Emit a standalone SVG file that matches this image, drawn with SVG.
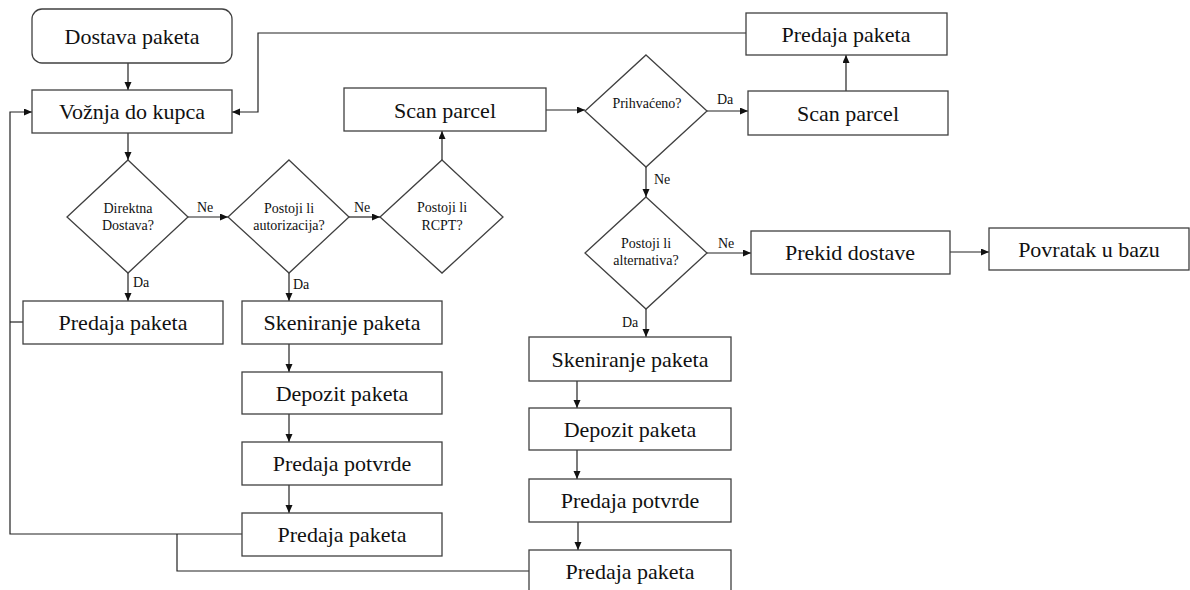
<svg xmlns="http://www.w3.org/2000/svg" width="1190" height="590" viewBox="0 0 1190 590">
<style>
.box{fill:#fff;stroke:#404040;stroke-width:1.3}
.t{font-size:22px;fill:#111;text-anchor:middle}
.s{font-size:14px;fill:#111;text-anchor:middle}
.l{font-size:14px;fill:#111}
.c{fill:none;stroke:#222;stroke-width:1.2}
.a{marker-end:url(#ah)}
</style>
<defs>
<marker id="ah" markerUnits="userSpaceOnUse" markerWidth="8" markerHeight="8" refX="8" refY="3.5" orient="auto">
<path d="M0,0 L8,3.5 L0,7 z" fill="#111"/>
</marker>
</defs>
<rect width="1190" height="590" fill="#fff"/>
<g font-family="'Liberation Serif', 'Tinos', 'Times New Roman', 'DejaVu Serif', serif">
<g id="connectors">
<line class="c a" x1="128" y1="63" x2="128" y2="90"/>
<line class="c a" x1="128" y1="133" x2="128" y2="160"/>
<line class="c a" x1="188" y1="217" x2="228" y2="217"/>
<line class="c a" x1="349" y1="217" x2="380" y2="217"/>
<line class="c a" x1="128" y1="273" x2="128" y2="301"/>
<line class="c a" x1="289" y1="273" x2="289" y2="301"/>
<line class="c a" x1="289" y1="344" x2="289" y2="372"/>
<line class="c a" x1="289" y1="414" x2="289" y2="442"/>
<line class="c a" x1="289" y1="485" x2="289" y2="513"/>
<line class="c a" x1="442" y1="160" x2="442" y2="131"/>
<line class="c a" x1="546" y1="110" x2="585" y2="110"/>
<line class="c a" x1="707" y1="111" x2="748" y2="111"/>
<line class="c a" x1="846" y1="91" x2="846" y2="55"/>
<polyline class="c a" points="746,33 258,33 258,112 232,112"/>
<line class="c a" x1="646" y1="167" x2="646" y2="197"/>
<line class="c a" x1="707" y1="253" x2="751" y2="253"/>
<line class="c a" x1="950" y1="252" x2="989" y2="252"/>
<line class="c a" x1="646" y1="309" x2="646" y2="337"/>
<line class="c a" x1="577" y1="381" x2="577" y2="408"/>
<line class="c a" x1="577" y1="450" x2="577" y2="479"/>
<line class="c a" x1="578" y1="522" x2="578" y2="550"/>
<polyline class="c a" points="242,534 10,534 10,112 32,112"/>
<line class="c" x1="23" y1="322" x2="10" y2="322"/>
<polyline class="c" points="530,571 177,571 177,534"/>
<text class="l" x="197" y="212">Ne</text>
<text class="l" x="354" y="212">Ne</text>
<text class="l" x="133" y="287">Da</text>
<text class="l" x="293" y="289">Da</text>
<text class="l" x="717" y="104">Da</text>
<text class="l" x="654" y="184">Ne</text>
<text class="l" x="718" y="248">Ne</text>
<text class="l" x="622" y="327">Da</text>
</g>
<g id="n-dostava"><rect class="box" x="32" y="9" width="200" height="54" rx="10"/><text class="t" x="132" y="44">Dostava paketa</text></g>
<g id="n-voznja"><rect class="box" x="32" y="90" width="200" height="43"/><text class="t" x="132" y="119">Vožnja do kupca</text></g>
<g id="n-d1"><polygon class="box" points="128,160 188,217 128,273 67,217"/><text class="s" x="128" y="213">Direktna</text><text class="s" x="128" y="230">Dostava?</text></g>
<g id="n-d2"><polygon class="box" points="289,160 349,217 289,273 228,217"/><text class="s" x="289" y="213">Postoji li</text><text class="s" x="289" y="230">autorizacija?</text></g>
<g id="n-d3"><polygon class="box" points="442,160 503,217 442,273 380,217"/><text class="s" x="442" y="212">Postoji li</text><text class="s" x="442" y="230">RCPT?</text></g>
<g id="n-predaja1"><rect class="box" x="23" y="301" width="200" height="43"/><text class="t" x="123" y="330">Predaja paketa</text></g>
<g id="n-sken1"><rect class="box" x="242" y="301" width="200" height="43"/><text class="t" x="342" y="330">Skeniranje paketa</text></g>
<g id="n-depozit1"><rect class="box" x="242" y="372" width="200" height="42"/><text class="t" x="342" y="400.5">Depozit paketa</text></g>
<g id="n-potvrda1"><rect class="box" x="242" y="442" width="200" height="43"/><text class="t" x="342" y="471">Predaja potvrde</text></g>
<g id="n-predaja2"><rect class="box" x="242" y="513" width="200" height="43"/><text class="t" x="342" y="542">Predaja paketa</text></g>
<g id="n-scan1"><rect class="box" x="344" y="88" width="202" height="43"/><text class="t" x="445" y="117.5">Scan parcel</text></g>
<g id="n-d4"><polygon class="box" points="646,55 707,111 646,167 585,111"/><text class="s" x="647" y="108">Prihvaćeno?</text></g>
<g id="n-scan2"><rect class="box" x="748" y="91" width="200" height="44"/><text class="t" x="848" y="120.5">Scan parcel</text></g>
<g id="n-predaja3"><rect class="box" x="746" y="13" width="201" height="42"/><text class="t" x="846" y="41.5">Predaja paketa</text></g>
<g id="n-d5"><polygon class="box" points="646,197 707,253 646,309 585,253"/><text class="s" x="646" y="248">Postoji li</text><text class="s" x="646" y="265">alternativa?</text></g>
<g id="n-prekid"><rect class="box" x="751" y="231" width="199" height="43"/><text class="t" x="850" y="260">Prekid dostave</text></g>
<g id="n-povratak"><rect class="box" x="989" y="228" width="200" height="42"/><text class="t" x="1089" y="256.5">Povratak u bazu</text></g>
<g id="n-sken2"><rect class="box" x="529" y="337" width="202" height="44"/><text class="t" x="630" y="366.5">Skeniranje paketa</text></g>
<g id="n-depozit2"><rect class="box" x="529" y="408" width="202" height="42"/><text class="t" x="630" y="436.5">Depozit paketa</text></g>
<g id="n-potvrda2"><rect class="box" x="529" y="479" width="202" height="43"/><text class="t" x="630" y="508">Predaja potvrde</text></g>
<g id="n-predaja4"><rect class="box" x="529" y="550" width="202" height="45"/><text class="t" x="630" y="579">Predaja paketa</text></g>
</g>
</svg>
